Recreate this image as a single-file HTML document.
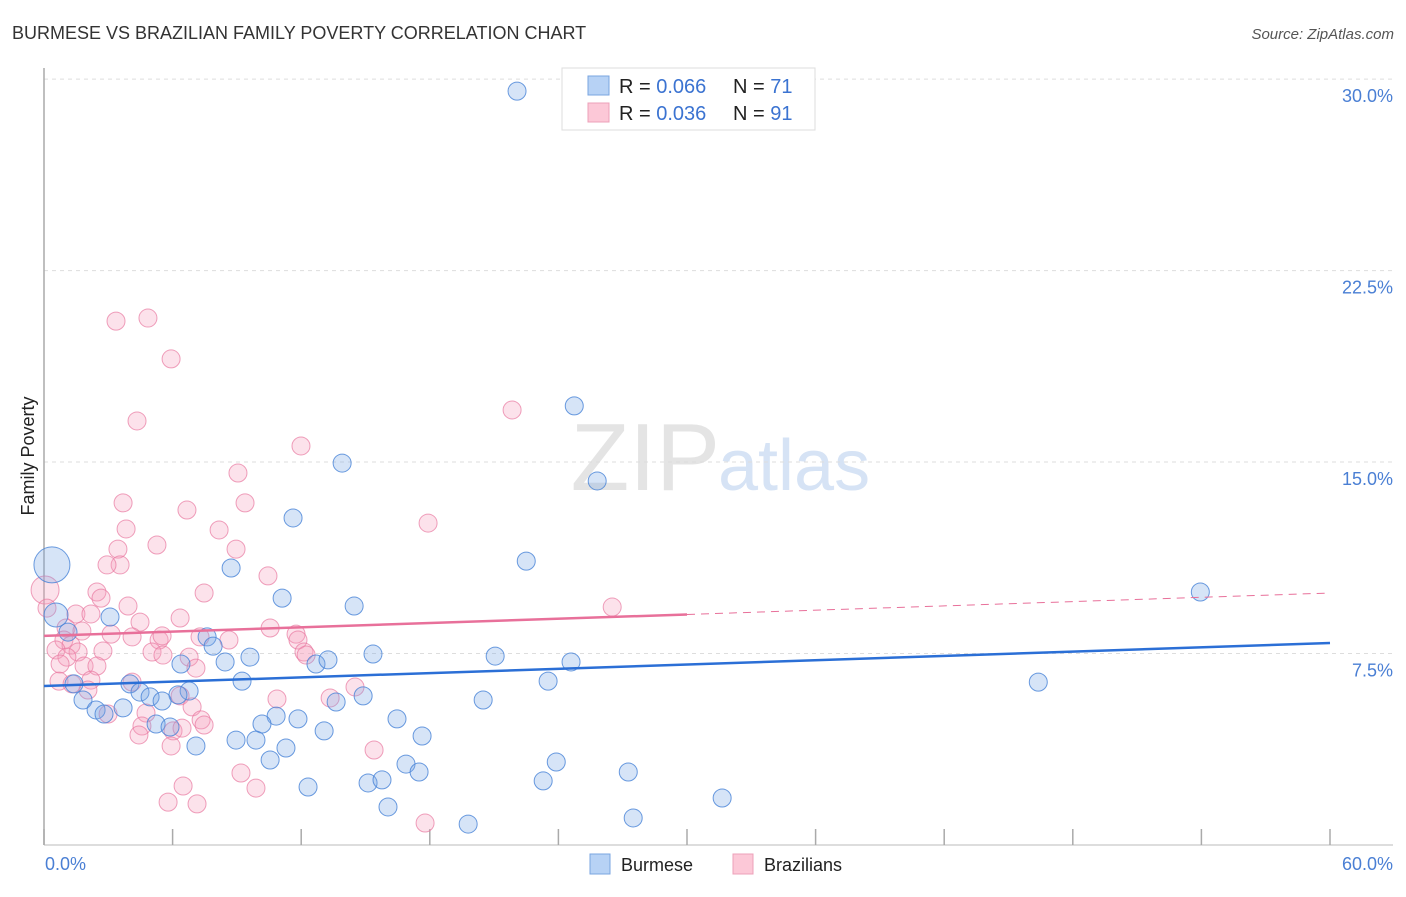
<!DOCTYPE html>
<html><head><meta charset="utf-8"><style>
body{margin:0;background:#fff;font-family:"Liberation Sans",sans-serif;}
svg text{font-family:"Liberation Sans",sans-serif;}
</style></head><body>
<svg id="chart" width="1406" height="892">
<text x="12" y="39" font-size="18" fill="#333">BURMESE VS BRAZILIAN FAMILY POVERTY CORRELATION CHART</text>
<text x="1394" y="39" font-size="15" fill="#555" font-style="italic" text-anchor="end">Source: ZipAtlas.com</text>
<text x="720" y="490" font-size="96" fill="#e4e4e4" text-anchor="end" font-family="Liberation Serif">ZIP</text>
<text x="718" y="490" font-size="72" fill="#d6e3f5">atlas</text>
<g id="grid"></g>
<g id="axes"></g>
<g id="marks"></g>
<g id="trends"></g>
<text transform="translate(34,456) rotate(-90)" font-size="18" fill="#222" text-anchor="middle">Family Poverty</text>
<text x="45" y="870" font-size="18" fill="#4a7fd4">0.0%</text>
<text x="1393" y="870" font-size="18" fill="#4a7fd4" text-anchor="end">60.0%</text>
<g>
<rect x="562" y="68" width="253" height="62" fill="#fff" stroke="#ddd"/>
<rect x="588" y="76" width="21" height="19" fill="#b7d2f5" stroke="#7aa5e0"/>
<rect x="588" y="103" width="21" height="19" fill="#fcc8d7" stroke="#eda0b8"/>
<text x="619" y="93" font-size="20" fill="#222">R = <tspan fill="#3b73d1">0.066</tspan></text>
<text x="733" y="93" font-size="20" fill="#222">N = <tspan fill="#3b73d1">71</tspan></text>
<text x="619" y="120" font-size="20" fill="#222">R = <tspan fill="#3b73d1">0.036</tspan></text>
<text x="733" y="120" font-size="20" fill="#222">N = <tspan fill="#3b73d1">91</tspan></text>
</g>
<g>
<rect x="590" y="854" width="20" height="20" fill="#b7d2f5" stroke="#7aa5e0"/>
<text x="621" y="871" font-size="18" fill="#222">Burmese</text>
<rect x="733" y="854" width="20" height="20" fill="#fcc8d7" stroke="#eda0b8"/>
<text x="764" y="871" font-size="18" fill="#222">Brazilians</text>
</g>
</svg>
<script>
const yTicks=[7.5,15,22.5,30];
const yTickLabels=["7.5%","15.0%","22.5%","30.0%"];
const xTicks=[0,6,12,18,24,30,36,42,48,54,60];
const burmeseX=[22.07,24.74,25.81,13.91,11.62,22.50,8.73,53.95,11.11,14.47,3.08,0.56,0.37,1.12,7.61,7.89,15.35,21.05,24.59,6.39,8.45,9.61,12.69,13.25,46.39,23.52,9.24,4.01,1.40,4.48,4.95,6.77,6.25,5.51,1.82,2.43,2.80,3.69,13.63,14.89,20.49,10.83,11.85,10.17,16.47,5.23,5.88,13.07,8.96,9.89,7.09,17.64,11.29,10.55,23.90,16.89,17.50,27.26,15.12,15.77,12.32,23.29,31.64,16.05,27.49,19.79];
const burmeseY=[29.53,17.20,14.26,14.96,12.81,11.12,10.85,9.91,9.67,9.36,8.93,9.01,10.97,8.34,8.15,7.79,7.48,7.40,7.17,7.09,7.17,7.36,7.09,7.25,6.38,6.42,6.42,6.31,6.31,5.99,5.80,6.03,5.88,5.64,5.68,5.29,5.13,5.37,5.60,5.84,5.68,5.05,4.94,4.74,4.94,4.74,4.62,4.47,4.11,4.11,3.88,4.27,3.80,3.33,3.25,3.17,2.86,2.86,2.43,2.55,2.27,2.51,1.84,1.49,1.06,0.82];
const burmeseBig=[0,0,0,0,0,0,0,0,0,0,0,1,2];
const brazX=[3.36,4.85,5.93,4.34,21.84,11.99,9.05,9.38,3.69,6.67,17.92,3.83,8.17,5.27,3.45,8.96,3.55,2.94,10.45,2.47,7.47,2.66,0.05,3.92,26.51,1.49,2.19,6.35,4.48,0.14,10.55,11.76,11.85,1.03,1.77,3.13,4.11,5.37,5.51,7.28,8.63,12.13,0.93,1.26,1.59,0.56,2.75,5.04,5.55,6.77,1.07,1.87,2.47,0.75,4.11,7.09,14.51,2.19,2.05,0.70,10.87,6.35,2.99,4.76,6.91,7.33,7.47,4.57,4.43,6.02,6.44,5.93,15.40,9.19,6.49,9.89,5.79,7.14,17.78,13.35,12.23,1.31];
const brazY=[20.52,20.64,19.04,16.61,17.04,15.63,14.57,13.40,13.40,13.12,12.61,12.38,12.34,11.75,11.59,11.59,10.97,10.97,10.54,9.91,9.87,9.67,9.99,9.36,9.32,9.05,9.05,8.89,8.73,9.28,8.50,8.26,8.03,8.50,8.38,8.26,8.15,8.03,8.19,8.15,8.03,7.56,8.03,7.83,7.56,7.64,7.60,7.56,7.44,7.36,7.36,7.01,7.01,7.09,6.38,6.93,6.19,6.46,6.07,6.42,5.72,5.84,5.13,5.17,5.41,4.90,4.70,4.66,4.31,4.47,4.58,3.88,3.72,2.82,2.31,2.23,1.68,1.61,0.86,5.76,7.44,6.31];
const brazBigIndex=22;
const burmeseTrend=[6.23,7.91];
const brazTrend=[8.19,9.87];
const brazSolidEnd=30;

const X0=44,X1=1330,Y0=845,PXY=25.53;
const sx=v=>X0+(X1-X0)*v/60;
const sy=v=>Y0-v*PXY;
const NS="http://www.w3.org/2000/svg";
function mk(tag,attrs,parent){const e=document.createElementNS(NS,tag);for(const k in attrs)e.setAttribute(k,attrs[k]);document.getElementById(parent).appendChild(e);return e;}

yTicks.forEach((t,i)=>{
  const l=mk('line',{x1:X0,x2:1393,y1:sy(t),y2:sy(t),stroke:'#ddd','stroke-dasharray':'4,4'},'grid');
  
  
  const tx=mk('text',{x:1393,y:sy(t)+23,'font-size':18,fill:'#4a7fd4','text-anchor':'end'},'grid');
  tx.textContent=yTickLabels[i];
  
  
});
let a=mk('line',{x1:X0,x2:X0,y1:68,y2:Y0,stroke:'#aaa','stroke-width':1.5},'axes');


a=mk('line',{x1:X0,x2:1393,y1:Y0,y2:Y0,stroke:'#bbb','stroke-width':1},'axes');


xTicks.forEach(t=>{
  const l=mk('line',{x1:sx(t),x2:sx(t),y1:829,y2:Y0,stroke:'#aaa','stroke-width':1.5},'axes');
  
  
});
brazX.forEach((x,i)=>{
  const c=mk('circle',{cx:sx(x),cy:sy(brazY[i]),r:i===brazBigIndex?14:9,fill:'rgba(244,160,188,0.3)',stroke:'rgba(232,120,160,0.7)','stroke-width':1},'marks');
  
  
});
burmeseX.forEach((x,i)=>{
  const big=burmeseBig[i]||0;
  const c=mk('circle',{cx:sx(x),cy:sy(burmeseY[i]),r:big===2?18:(big===1?12:9),fill:'rgba(120,165,230,0.3)',stroke:'rgba(70,130,215,0.8)','stroke-width':1},'marks');
  
  
});
const pm=brazTrend[0]+(brazTrend[1]-brazTrend[0])*brazSolidEnd/60;
let t=mk('line',{x1:sx(0),y1:sy(brazTrend[0]),x2:sx(brazSolidEnd),y2:sy(pm),stroke:'#e8709a','stroke-width':2.5},'trends');


t=mk('line',{x1:sx(brazSolidEnd),y1:sy(pm),x2:sx(60),y2:sy(brazTrend[1]),stroke:'#e8709a','stroke-width':1,'stroke-dasharray':'8,6'},'trends');


t=mk('line',{x1:sx(0),y1:sy(burmeseTrend[0]),x2:sx(60),y2:sy(burmeseTrend[1]),stroke:'#2b6fd6','stroke-width':2.5},'trends');


</script>
</body></html>
